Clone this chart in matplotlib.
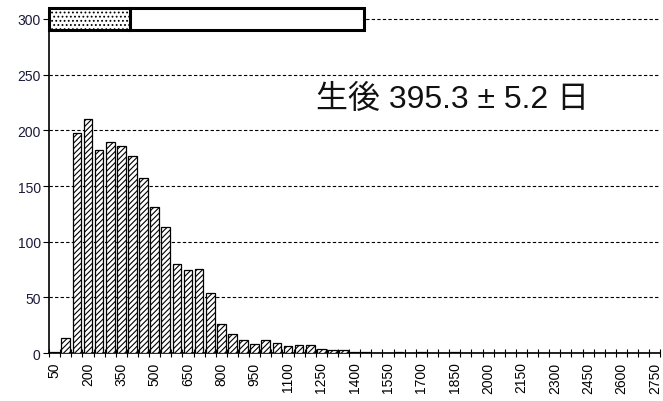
import matplotlib
matplotlib.use("Agg")
import matplotlib.pyplot as plt
import numpy as np
from matplotlib.patches import Rectangle

# Data
categories = list(range(50, 2800, 50))  # 50 .. 2750
values = [1, 14, 198, 210, 182, 190, 186, 177, 157, 131,
          113, 80, 75, 76, 54, 26, 17, 12, 8, 12,
          9, 6, 7, 7, 4, 3, 3, 1, 1, 0,
          0, 1, 0, 1, 0, 0, 1, 0, 0, 0,
          0, 0, 0, 0, 0, 0, 0, 0, 0, 0,
          0, 0, 0, 0, 0]
yticks = [0, 50, 100, 150, 200, 250, 300]
label_text = "生後 395.3 ± 5.2 日"
# top range box (in category index units)
box_start, box_mid, box_end = -0.5, 6.8, 27.8
box_level = 300

plt.rcParams['font.family'] = ['Liberation Sans', 'DejaVu Sans']
plt.rcParams['hatch.linewidth'] = 0.8

fig = plt.figure(figsize=(6.63, 4.02), dpi=100)
ax = fig.add_axes([0.074, 0.119, 0.922, 0.859])

x = np.arange(len(categories))
ax.bar(x, values, width=0.78, facecolor='white', edgecolor='black',
       hatch='//////', linewidth=0.9, zorder=3)

ax.set_xlim(-0.5, len(categories) - 0.5)
ax.set_ylim(0, 310)

for y in yticks[1:]:
    ax.axhline(y, color='black', lw=0.8, ls=(0, (3, 2)), zorder=1)

# top box
h = 19
ax.add_patch(Rectangle((box_start, box_level - h / 2), box_mid - box_start, h,
                       facecolor='white', edgecolor='black', hatch='....',
                       lw=2.2, zorder=5, clip_on=False))
ax.add_patch(Rectangle((box_mid, box_level - h / 2), box_end - box_mid, h,
                       facecolor='white', edgecolor='black',
                       lw=2.2, zorder=5, clip_on=False))

ax.text(35.8, 228, label_text, fontsize=23, ha='center', va='center',
        family=['Liberation Sans', 'Noto Sans CJK JP'], color='#111111')

for s in ['top', 'right']:
    ax.spines[s].set_visible(False)
ax.spines['left'].set_linewidth(1.2)
ax.spines['bottom'].set_linewidth(1.2)

ax.set_yticks(yticks)
ax.set_yticklabels([str(v) for v in yticks], fontsize=10, color='#1a1a3a')
ax.tick_params(axis='y', length=4, width=0.8, pad=2)

ax.set_xticks(x[::3])
ax.set_xticklabels([str(c) for c in categories[::3]], rotation=90, fontsize=10)
ax.set_xticks(np.arange(len(categories) + 1) - 0.5, minor=True)
ax.tick_params(axis='x', which='major', length=0, pad=6)
ax.tick_params(axis='x', which='minor', length=6, width=0.8, direction='inout')

fig.savefig("out.png", dpi=100)
